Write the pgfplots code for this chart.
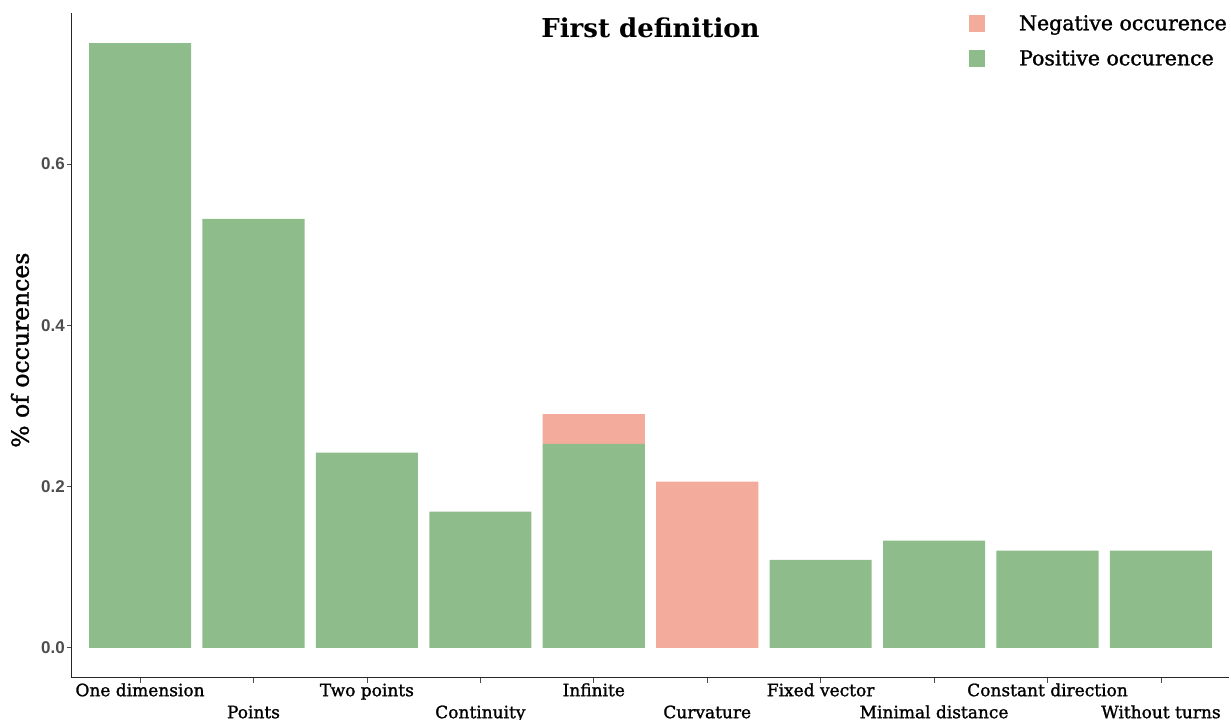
\documentclass[border=0pt]{standalone}
\usepackage{fontspec}
\setmainfont{DejaVu Serif}
\newfontfamily\labfont[FakeBold=1.3]{DejaVu Serif}
\newfontfamily\ticksans{Liberation Sans}
\usepackage{pgfplots}
\pgfplotsset{compat=1.18}
\definecolor{posgreen}{RGB}{143,188,139}
\definecolor{negsalmon}{RGB}{243,171,155}
\definecolor{tickgray}{RGB}{77,77,77}

\begin{document}
\begin{tikzpicture}
\begin{axis}[
  name=ax,
  scale only axis,
  width=1157pt, height=665pt,
  ybar stacked,
  bar width=0.9,
  xmin=-0.6, xmax=9.6,
  ymin=-0.0375, ymax=0.7875,
  axis x line*=bottom, axis y line*=left,
  axis line style={-, line width=1pt, black!85},
  tick align=outside,
  major tick length=5pt,
  tick style={line width=0.8pt, black!70},
  xtick={0,2,4,6,8},
  xticklabels={One dimension,Two points,Infinite,Fixed vector,Constant direction},
  extra x ticks={1,3,5,7,9},
  extra x tick labels={Points,Continuity,Curvature,Minimal distance,Without turns},
  extra x tick style={xticklabel style={yshift=-22pt}},
  xticklabel style={font=\labfont\fontsize{17}{17}\selectfont, inner sep=1pt, text height=12pt},
  ytick={0,0.2,0.4,0.6},
  yticklabels={0.0,0.2,0.4,0.6},
  yticklabel style={font=\ticksans\bfseries\fontsize{17}{17}\selectfont, text=tickgray, inner sep=2pt},
  ylabel={\% of occurences},
  ylabel style={at={(axis description cs:-0.045,0.493)}, anchor=center, font=\labfont\fontsize{23.5}{23.5}\selectfont},
  title={First definition},
  title style={at={(axis description cs:0.5,0.9624)}, anchor=base, yshift=-6pt, font=\bfseries\fontsize{26}{26}\selectfont},
  reverse legend,
  legend style={at={(axis description cs:1,1)}, anchor=north east, draw=none, fill=none,
    font=\labfont\fontsize{20.5}{20.5}\selectfont, row sep=14.5pt, inner sep=0pt,
    /tikz/every odd column/.append style={column sep=32pt}},
  legend cell align=left,
  legend image code/.code={\fill[#1] (0pt,-8.5pt) rectangle (16pt,8.5pt);},
]
\addplot[fill=posgreen, draw=none] coordinates {
  (0,0.750) (1,0.532) (2,0.242) (3,0.169) (4,0.253)
  (5,0) (6,0.109) (7,0.133) (8,0.1206) (9,0.1206)
};
\addlegendentry{Positive occurence}
\addplot[fill=negsalmon, draw=none] coordinates {
  (0,0) (1,0) (2,0) (3,0) (4,0.037)
  (5,0.206) (6,0) (7,0) (8,0) (9,0)
};
\addlegendentry{Negative occurence}
\end{axis}
\pgfresetboundingbox
\path (ax.south west) ++(-72pt,-42pt) rectangle ([shift={(2pt,13pt)}]ax.north east);
\end{tikzpicture}
\end{document}
